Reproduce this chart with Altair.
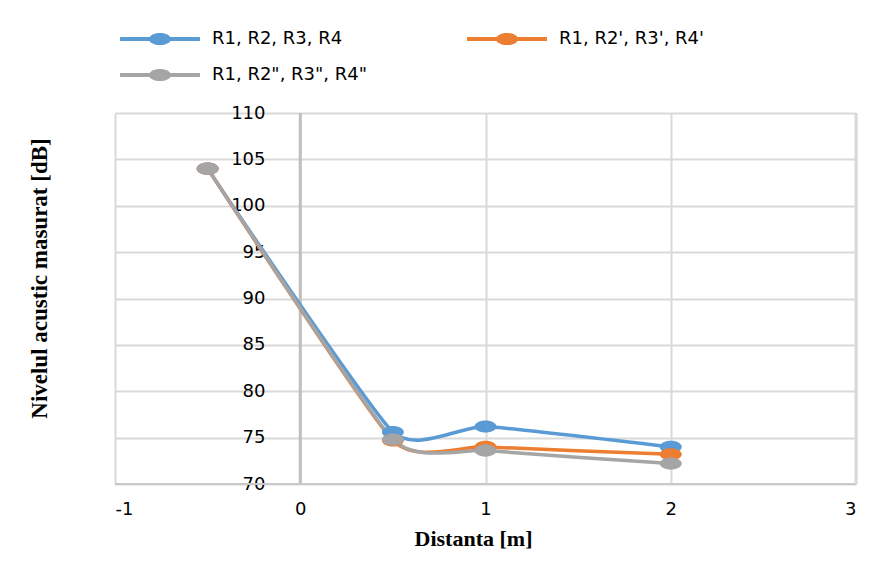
import altair as alt
import pandas as pd

# Distance from the source [m] and measured sound level [dB] for each configuration
distance = [-0.5, 0.5, 1, 2]
series_names = ["R1, R2, R3, R4", "R1, R2', R3', R4'", 'R1, R2", R3", R4"']
level_r = [104.0, 75.6, 76.2, 74.0]
level_r_prime = [104.0, 74.7, 74.0, 73.2]
level_r_second = [104.0, 74.8, 73.6, 72.2]
colors = ["#5B9BD5", "#ED7D31", "#A5A5A5"]

x_ticks = [-1, 0, 1, 2, 3]
y_ticks = [70, 75, 80, 85, 90, 95, 100, 105, 110]

rows = []
for name, values in zip(series_names, [level_r, level_r_prime, level_r_second]):
    for order, (d, v) in enumerate(zip(distance, values)):
        rows.append({"serie": name, "distanta": d, "nivel": v, "ord": order})
df = pd.DataFrame(rows)

# line with an elliptical marker in the middle, used as legend symbol
# (drawn wider than its nominal box so the legend rows stay compact)
legend_symbol = (
    "M-2.35,-0.12L2.35,-0.12L2.35,0.12L-2.35,0.12Z "
    "M0.65,0A0.65,0.36,0,1,1,-0.65,0A0.65,0.36,0,1,1,0.65,0Z"
)
marker_shape = "M1,0A1,0.55,0,1,1,-1,0A1,0.55,0,1,1,1,0Z"

x_enc = alt.X(
    "distanta:Q",
    scale=alt.Scale(domain=[-1, 3], nice=False),
    axis=alt.Axis(
        values=x_ticks,
        labelExpr="replace(format(datum.value, 'd'), '\u2212', '-')",
        title="Distanta [m]",
        titleFont="Liberation Serif",
        titleFontSize=22,
        titleFontWeight="bold",
        titleColor="#000000",
        titleX=358,
        titleY=61,
        titleAlign="center",
        titleBaseline="alphabetic",
        labelFont="DejaVu Sans",
        labelFontSize=18,
        labelColor="#000000",
        labelPadding=16,
        ticks=False,
        domain=False,
        gridColor="#d9d9d9",
        gridWidth=2,
    ),
)
y_enc = alt.Y(
    "nivel:Q",
    scale=alt.Scale(domain=[70, 110], nice=False, zero=False),
    axis=alt.Axis(
        values=y_ticks,
        title="Nivelul acustic masurat [dB]",
        titleFont="Liberation Serif",
        titleFontSize=23,
        titleFontWeight="bold",
        titleColor="#000000",
        titleX=-230,
        titleY=165,
        titleAlign="center",
        titleBaseline="middle",
        titleAngle=-90,
        labelFont="DejaVu Sans",
        labelFontSize=18,
        labelColor="#000000",
        labelPadding=4,
        offset=-154,
        ticks=False,
        domain=False,
        gridColor="#d9d9d9",
        gridWidth=2,
    ),
)
color_enc = alt.Color(
    "serie:N",
    scale=alt.Scale(domain=series_names, range=colors),
    sort=series_names,
    legend=alt.Legend(
        title=None,
        orient="none",
        legendX=28,
        legendY=-91,
        direction="horizontal",
        columns=2,
        columnPadding=99,
        rowPadding=10,
        symbolType=legend_symbol,
        symbolSize=1156,
        symbolStrokeWidth=0,
        labelFont="DejaVu Sans",
        labelFontSize=18,
        labelColor="#000000",
        labelOffset=35,
        labelLimit=400,
        padding=0,
    ),
)

base = alt.Chart(df)

# value axis crossing at x = 0
zero_line = alt.Chart(pd.DataFrame({"x0": [0]})).mark_rule(
    color="#bfbfbf", strokeWidth=3
).encode(x=alt.X("x0:Q", scale=alt.Scale(domain=[-1, 3], nice=False)))

# bottom and right edges of the plot area
bottom_line = alt.Chart(pd.DataFrame({"y0": [70]})).mark_rule(
    color="#c8c8c8", strokeWidth=2
).encode(y=alt.Y("y0:Q", scale=alt.Scale(domain=[70, 110], nice=False, zero=False)))
right_line = alt.Chart(pd.DataFrame({"x3": [3]})).mark_rule(
    color="#d9d9d9", strokeWidth=3
).encode(x=alt.X("x3:Q", scale=alt.Scale(domain=[-1, 3], nice=False)))

lines = base.mark_line(
    interpolate="cardinal", tension=0.5, strokeWidth=3.5
).encode(x=x_enc, y=y_enc, color=color_enc, order="ord:Q")

points = base.mark_point(
    shape=marker_shape, size=484, filled=True, opacity=1, strokeWidth=0
).encode(x=x_enc, y=y_enc, color=color_enc)

chart = (
    alt.layer(zero_line, bottom_line, right_line, lines, points)
    .properties(
        width=741,
        height=371,
        autosize=alt.AutoSizeParams(type="none"),
        padding={"left": 115, "top": 113, "right": 39, "bottom": 89},
        background="#ffffff",
    )
    .configure_view(stroke=None)
)

chart.save("out.html", embed_options={"renderer": "svg", "actions": False})
